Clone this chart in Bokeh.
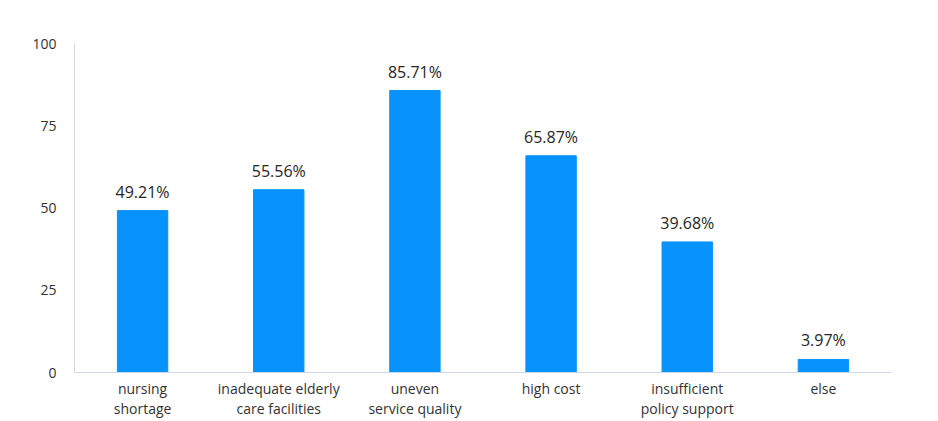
from bokeh.plotting import figure
from bokeh.models import ColumnDataSource, Range1d, FactorRange, FixedTicker, LabelSet
from bokeh.core.properties import value
from bokeh.embed import file_html
from bokeh.resources import INLINE

categories = [
    "nursing\nshortage",
    "inadequate elderly\ncare facilities",
    "uneven\nservice quality",
    "high cost",
    "insufficient\npolicy support",
    "else",
]
values = [49.21, 55.56, 85.71, 65.87, 39.68, 3.97]
y_ticks = [0, 25, 50, 75, 100]

FONT = "Open Sans"
BAR = "#0892fb"
AXIS = "#cdd8f0"
TXT = "#333333"

src = ColumnDataSource(dict(
    cat=categories,
    val=values,
    lbl=[f"{v:.2f}%" for v in values],
))

p = figure(
    width=938, height=421,
    x_range=FactorRange(*categories, range_padding=0),
    y_range=Range1d(0, 100),
    output_backend="svg", toolbar_location=None,
    min_border_left=74, min_border_right=47,
    min_border_top=43, min_border_bottom=0,
)
p.outline_line_color = None
p.background_fill_color = "white"
p.border_fill_color = "white"

p.vbar(x="cat", top="val", width=0.37, source=src, color=BAR)

# value labels above each bar
p.add_layout(LabelSet(
    x="cat", y="val", text="lbl", source=src,
    y_offset=8, text_align="center", text_baseline="bottom",
    text_font=value(FONT), text_font_size="16px", text_color="#262626",
))

p.xgrid.grid_line_color = None
p.ygrid.grid_line_color = None

p.yaxis.ticker = FixedTicker(ticks=y_ticks)
p.yaxis.axis_line_color = AXIS
p.yaxis.major_tick_line_color = None
p.yaxis.minor_tick_line_color = None
p.yaxis.major_label_text_font = FONT
p.yaxis.major_label_text_font_size = "14px"
p.yaxis.major_label_text_color = TXT
p.yaxis.major_label_standoff = 12

p.xaxis.axis_line_color = AXIS
p.xaxis.major_tick_line_color = None
p.xaxis.minor_tick_line_color = None
p.xaxis.major_tick_out = 0
p.xaxis.major_label_text_font = FONT
p.xaxis.major_label_text_font_size = "14px"
p.xaxis.major_label_text_color = TXT
p.xaxis.major_label_text_line_height = 1.1
p.xaxis.major_label_standoff = 6

open("out.html", "w").write(file_html(p, INLINE))
